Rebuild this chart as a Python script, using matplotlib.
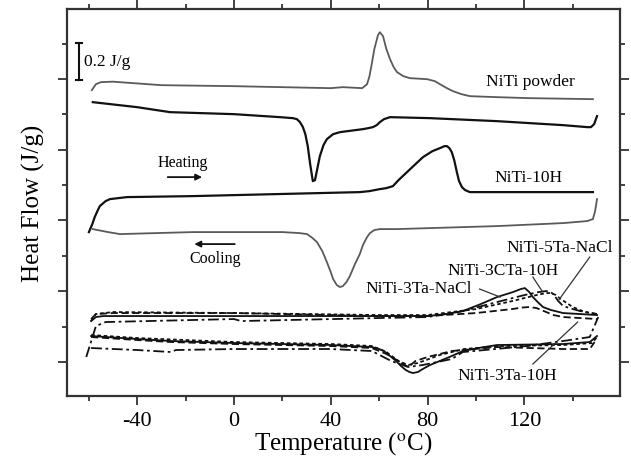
import numpy as np
import matplotlib
matplotlib.use('Agg')
from matplotlib import pyplot as plt

plt.rcParams['font.family'] = ['Liberation Serif', 'DejaVu Serif']
plt.rcParams['mathtext.fontset'] = 'stix'
plt.rcParams['axes.unicode_minus'] = False

# ---- data (temperature in C, heat flow in arbitrary offset units) ----
powder_h_T = [-58.7, -57, -55, -50, -30, 0, 20, 40, 45, 53, 55, 56, 57, 58, 59.5, 60.3, 61.6, 63, 64.5, 66,
              67.4, 70, 72.7, 79.8, 83, 85.1, 88, 90.5, 94, 97.5, 108.7, 122.3, 148.3]
powder_h_Q = [306, 312, 314, 314.5, 311, 310, 309, 308, 309, 308, 312, 320, 333, 347, 361, 364, 360, 347, 337, 329,
              324, 320, 318, 317, 315, 312, 308, 305, 302, 300, 299, 298, 297]

powder_c_T = [-58.3, -40, -26.4, 0, 19, 24.4, 26, 27.3, 28.5, 29.5, 30.5, 31.5, 32.6, 33.5, 34.5, 35.5,
              37, 38.4, 41, 43.8, 53.3, 55.5, 57.4, 59, 60.3, 62, 64.5, 81, 108.7, 136, 146, 147.5, 148.8, 150]
powder_c_Q = [294, 289, 284, 282, 279, 278, 277, 274, 269, 262, 250, 232, 215, 216, 228, 240,
              251, 257, 262, 264, 267, 268, 269, 271, 274, 277, 279, 278, 275, 271, 269, 269, 272, 280]

h10_h_T = [-59.9, -58.5, -57.5, -56.4, -55.4, -53, -51.2, -44.2, -16.9, 52, 56, 60.3, 63, 65.7, 68, 71.5,
           75, 78.1, 82, 85.1, 87, 88, 89, 90, 91, 92.1, 93, 94.2, 95.5, 97.5, 148.3]
h10_h_Q = [164, 172, 179, 185, 190, 195, 197, 199, 200, 204, 205, 207, 208, 210, 216, 224,
           232, 239, 245, 248, 250, 250, 248, 244, 236, 224, 215, 209, 206, 204, 204]

h10_c_T = [-58.3, -52, -47.1, -16.9, 20, 27, 30.2, 32.5, 34.3, 36.5, 38.4, 40, 41, 42.5, 43.8, 45, 46.5,
           47.9, 50, 52, 53.3, 55, 56.2, 58, 60.3, 67.4, 108.7, 136, 145.9, 148.3, 149.2, 150]
h10_c_Q = [167, 164, 162, 164, 164, 163, 162, 158, 154, 145, 134, 124, 117, 111, 109, 110, 114,
           120, 132, 142, 151, 159, 163, 166, 167, 167, 170, 173, 175, 177, 185, 197]

# lower group: heating
ta3nacl_h_T = [-59, -57, -54, 0, 60, 80, 88, 94.6, 102, 108.7, 115.3, 118.5, 120.2, 122, 123.5, 125.5, 127.7,
               131, 136, 150]
ta3nacl_h_Q = [75, 79, 80, 80, 80, 80, 82, 85, 92, 99, 104, 107, 108, 104, 99, 94, 89, 86, 83, 81]

cta3_h_T = [-61, -57, -53, 0, 3, 60, 80, 94.6, 108.7, 120, 126, 129, 131, 132.5, 134, 136, 140, 143, 150]
cta3_h_Q = [39, 70, 74, 77, 75, 78, 79, 85, 94, 101, 104, 105, 104, 100, 95, 90, 87, 85, 82]

ta5nacl_h_T = [-59, -57, -50, 0, 60, 80, 100, 115, 125, 129, 131, 133, 135, 137.5, 140, 145, 150]
ta5nacl_h_Q = [75, 82, 84, 83, 81, 81, 87, 95, 101, 103, 103, 101, 97, 93, 89, 84, 82]

ta3h10_h_T = [-59, -57, -50, 0, 60, 80, 100, 115, 119, 122, 125, 128, 132, 136, 150]
ta3h10_h_Q = [77, 82, 83, 83, 80, 80, 83, 87, 88.5, 89, 88, 85, 81, 79, 77]

# lower group: cooling
ta3nacl_c_T = [-59, -40, -26, 0, 40, 57, 60, 62, 64.5, 67, 69, 71, 72.5, 74, 76, 78, 81, 85, 90, 94.6,
               101, 108.7, 136, 147, 150]
ta3nacl_c_Q = [60, 57, 55, 53, 51, 49, 47, 45, 40, 35, 30, 26, 24, 23, 24, 27, 31, 35, 40, 45,
               48, 51, 52, 54, 60]

ta3h10_c_T = [-59, -40, -26, 0, 40, 57, 63, 68, 72, 75, 80, 90, 108.7, 136, 147, 149]
ta3h10_c_Q = [59, 56, 54, 52, 50, 48, 42, 35, 29, 35, 39, 45, 49, 47, 47, 54]

cta3_c_T = [-59, -40, -26, -24, 0, 40, 57, 65, 72, 78, 90, 94.6, 108, 121, 136, 147, 150.5]
cta3_c_Q = [48, 46, 44, 46, 47, 47, 45, 35, 29, 31, 37, 44, 47, 50, 55, 59, 79]

ta5nacl_c_T = [-59, -40, 0, 40, 57, 63, 68, 72, 76, 85, 95, 110, 136, 148, 150]
ta5nacl_c_Q = [61, 58, 54, 52, 50, 44, 35, 31, 33, 41, 47, 50, 51, 53, 59]

# ---- figure ----
fig = plt.figure(figsize=(6.31, 4.64), dpi=100)
ax = fig.add_axes([0.106, 0.1444, 0.8766, 0.8336])

gray = '#5a5a5a'
blk = '#111111'
ax.plot(powder_h_T, powder_h_Q, color=gray, lw=1.3)
ax.plot(powder_c_T, powder_c_Q, color=blk, lw=1.6)
ax.plot(h10_h_T, h10_h_Q, color=blk, lw=1.6)
ax.plot(h10_c_T, h10_c_Q, color=gray, lw=1.3)

dashdot = (0, (6, 2, 1.5, 2))
dashed = (0, (4, 2))
dotted = (0, (2, 1.5))
ax.plot(ta3nacl_h_T, ta3nacl_h_Q, color=blk, lw=1.3)
ax.plot(cta3_h_T, cta3_h_Q, color=blk, lw=1.3, ls=dashdot)
ax.plot(ta5nacl_h_T, ta5nacl_h_Q, color=blk, lw=1.3, ls=dotted)
ax.plot(ta3h10_h_T, ta3h10_h_Q, color=blk, lw=1.3, ls=dashed)
ax.plot(ta3nacl_c_T, ta3nacl_c_Q, color=blk, lw=1.3)
ax.plot(cta3_c_T, cta3_c_Q, color=blk, lw=1.3, ls=dashdot)
ax.plot(ta5nacl_c_T, ta5nacl_c_Q, color=blk, lw=1.3, ls=dotted)
ax.plot(ta3h10_c_T, ta3h10_c_Q, color=blk, lw=1.3, ls=dashed)

ax.set_xlim(-69, 159.5)
ax.set_ylim(0, 387)
ax.set_xticks([-40, 0, 40, 80, 120])
ax.set_xticks([-60, -20, 20, 60, 100, 140], minor=True)
ax.set_yticks(np.arange(34, 387, 70.8))
ax.set_yticks(np.arange(69.4, 387, 70.8), minor=True)
ax.set_yticklabels([])
ax.tick_params(which='both', direction='out', top=True, right=True, color='#333333', width=1.3)
ax.tick_params(which='major', length=6.5, labelsize=16, pad=4)
ax.tick_params(which='minor', length=3.6)
for s in ax.spines.values():
    s.set_linewidth(1.6)
    s.set_color('#333333')

ax.set_xlabel(r'Temperature ($^{\rm o}$C)', fontsize=18, labelpad=0)
ax.set_ylabel('Heat Flow (J/g)', fontsize=18, labelpad=5)

# scale bar
ax.plot([-64, -64], [316, 353], color=blk, lw=1.5)
ax.plot([-65.2, -62.8], [353, 353], color=blk, lw=1.5)
ax.plot([-65.2, -62.8], [316, 316], color=blk, lw=1.5)
ax.text(-61.8, 335, '0.2 J/g', fontsize=12.5, va='center', ha='left')

ax.text(104, 315, 'NiTi powder', fontsize=12.5, va='center', ha='left')
ax.text(107.5, 219, 'NiTi-10H', fontsize=12.5, va='center', ha='left')
ax.text(-31.5, 234, 'Heating', fontsize=11.5, va='center', ha='left')
ax.annotate('', xy=(-12, 219), xytext=(-28.5, 219),
            arrowprops=dict(arrowstyle='-|>', color=blk, lw=1.3, mutation_scale=9))
ax.text(-18.5, 138, 'Cooling', fontsize=11.5, va='center', ha='left')
ax.annotate('', xy=(-17.5, 152), xytext=(1.5, 152),
            arrowprops=dict(arrowstyle='-|>', color=blk, lw=1.3, mutation_scale=9))

lab = dict(fontsize=12.5, va='center', ha='center')
ax.text(134.7, 149, 'NiTi-5Ta-NaCl', **lab)
ax.text(111.2, 126, 'NiTi-3CTa-10H', **lab)
ax.text(76.2, 108, 'NiTi-3Ta-NaCl', **lab)
ax.text(112.8, 21, 'NiTi-3Ta-10H', **lab)
lk = dict(color='#333333', lw=0.9)
ax.plot([101.5, 110], [107, 99], **lk)
ax.plot([123.5, 127.3], [119, 105], **lk)
ax.plot([147, 133.9], [139, 95], **lk)
ax.plot([123.5, 142], [32, 74], **lk)

fig.savefig('out.png', dpi=100)
